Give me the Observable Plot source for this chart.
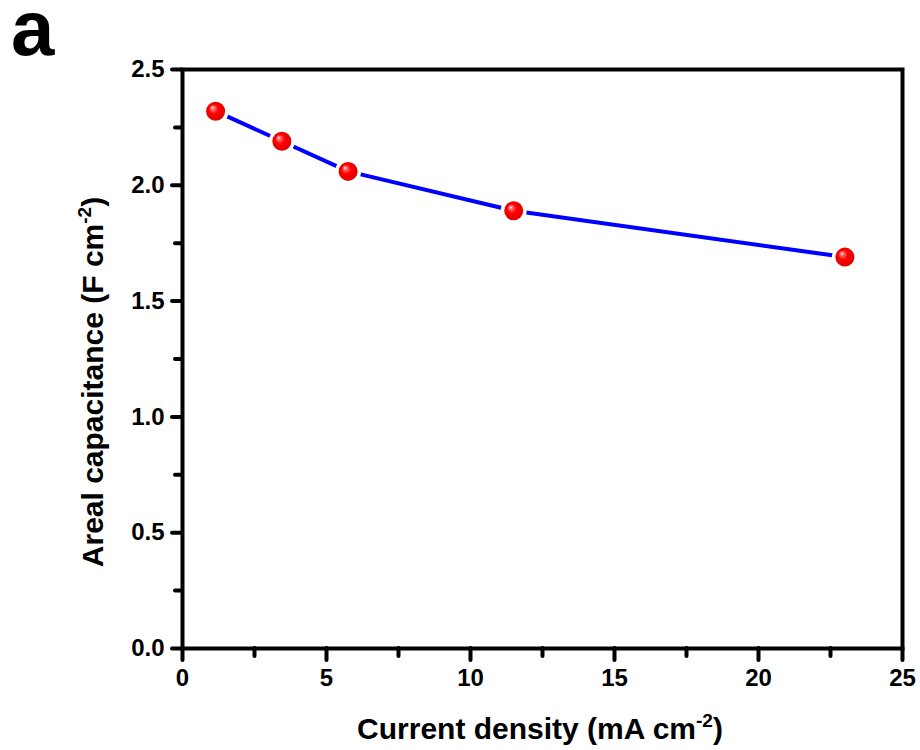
<!DOCTYPE html>
<html>
<head>
<meta charset="utf-8">
<script src="https://cdn.jsdelivr.net/npm/d3@7"></script>
<script src="https://cdn.jsdelivr.net/npm/@observablehq/plot@0.6"></script>
<style>
  html, body { margin: 0; padding: 0; background: #fff; }
  #chart { width: 920px; height: 750px; }
</style>
</head>
<body>
<div id="chart"></div>
<script>
// Data
const currentDensity = [1.15, 3.45, 5.75, 11.5, 23];
const arealCapacitance = [2.32, 2.19, 2.06, 1.89, 1.69];
const yMajorTicks = [0, 0.5, 1.0, 1.5, 2.0, 2.5];
const yMinorTicks = [0.25, 0.75, 1.25, 1.75, 2.25];
const xMajorTicks = [0, 5, 10, 15, 20, 25];
const xMinorTicks = [2.5, 7.5, 12.5, 17.5, 22.5];
const xTitle = ["Current density (mA cm", "-2", ")"];
const yTitle = ["Areal capacitance (F cm", "-2", ")"];
const panelLabel = "a";

const data = currentDensity.map((x, i) => ({x, y: arealCapacitance[i]}));

const font = "'Liberation Sans', Arial, Helvetica, sans-serif";

const chart = Plot.plot({
  width: 920,
  height: 750,
  marginLeft: 182,
  marginRight: 18,
  marginTop: 69,
  marginBottom: 102,
  style: {fontFamily: font, fontSize: "24px", fontWeight: "bold", color: "black", background: "white"},
  x: {domain: [0, 25]},
  y: {domain: [0, 2.5]},
  marks: [
    Plot.axisX(xMajorTicks, {tickSize: 12, strokeWidth: 4, strokeLinecap: "round", tickPadding: 8, tickFormat: d => String(d), label: null, fontSize: 24, fontWeight: "bold"}),
    Plot.axisX(xMinorTicks, {tickSize: 8, strokeWidth: 4, strokeLinecap: "round", tickFormat: () => "", label: null}),
    Plot.axisY(yMajorTicks, {tickSize: 10, strokeWidth: 4, strokeLinecap: "round", tickPadding: 8, tickFormat: d3.format(".1f"), label: null, fontSize: 24, fontWeight: "bold"}),
    Plot.axisY(yMinorTicks, {tickSize: 7, strokeWidth: 4, strokeLinecap: "round", tickFormat: () => "", label: null}),
    Plot.line(data, {x: "x", y: "y", stroke: "#0000ff", strokeWidth: 4}),
    Plot.dot(data, {x: "x", y: "y", r: 13, fill: "white", stroke: "none"}),
    Plot.dot(data, {x: "x", y: "y", r: 9.5, fill: "url(#ball)", stroke: "none"}),
    Plot.frame({stroke: "black", strokeWidth: 4})
  ]
});

document.getElementById("chart").appendChild(chart);

const svg = d3.select(chart);
const defs = svg.insert("defs", ":first-child");
const g = defs.append("radialGradient").attr("id", "ball")
  .attr("cx", "0.5").attr("cy", "0.5").attr("r", "0.55")
  .attr("fx", "0.32").attr("fy", "0.3");
g.append("stop").attr("offset", "0").attr("stop-color", "#ffe6e6");
g.append("stop").attr("offset", "0.18").attr("stop-color", "#ff6a6a");
g.append("stop").attr("offset", "0.45").attr("stop-color", "#ff0000");
g.append("stop").attr("offset", "0.85").attr("stop-color", "#e60000");
g.append("stop").attr("offset", "1").attr("stop-color", "#b80000");

// Panel label
svg.append("text")
  .attr("x", 11).attr("y", 55)
  .attr("text-anchor", "start")
  .style("font-family", font).style("font-weight", "bold").style("font-size", "78px")
  .attr("fill", "black")
  .text(panelLabel);

function titleText(sel, parts) {
  sel.append("tspan").text(parts[0]);
  sel.append("tspan").attr("dy", -12).style("font-size", "19px").text(parts[1]);
  sel.append("tspan").attr("dy", 12).text(parts[2]);
}

const xt = svg.append("text")
  .attr("x", 540).attr("y", 739)
  .attr("text-anchor", "middle")
  .style("font-family", font).style("font-weight", "bold").style("font-size", "30px")
  .attr("fill", "black");
titleText(xt, xTitle);

const yt = svg.append("text")
  .attr("transform", "translate(103,382) rotate(-90)")
  .attr("text-anchor", "middle")
  .style("font-family", font).style("font-weight", "bold").style("font-size", "30px")
  .attr("fill", "black");
titleText(yt, yTitle);
</script>
</body>
</html>
